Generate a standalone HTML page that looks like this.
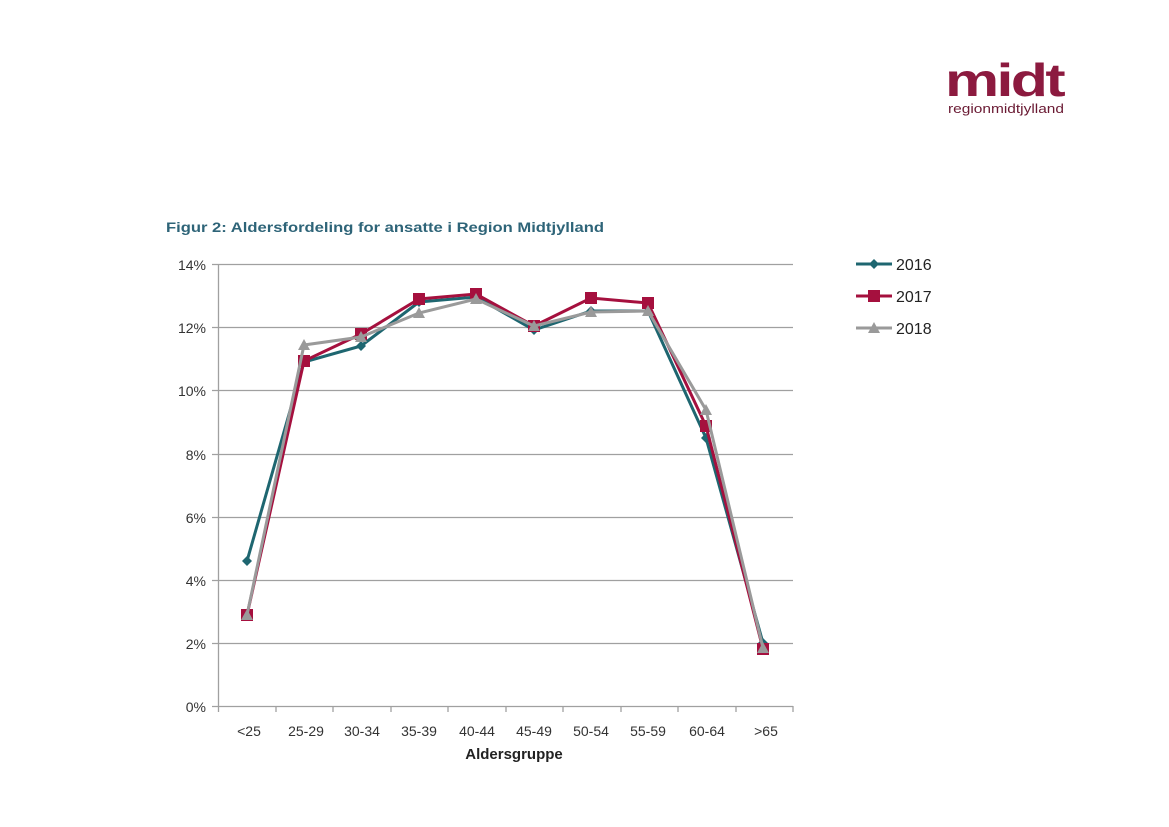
<!DOCTYPE html>
<html><head><meta charset="utf-8"><style>
html,body{margin:0;padding:0;background:#fff;}
body{width:1169px;height:827px;overflow:hidden;}
svg{display:block;font-family:"Liberation Sans","DejaVu Sans",sans-serif;}
</style></head><body>
<svg width="1169" height="827" viewBox="0 0 1169 827">
<text x="945" y="96" font-size="46" font-weight="bold" fill="#8c1a3f" letter-spacing="-2" textLength="118" lengthAdjust="spacingAndGlyphs">midt</text>
<text x="948" y="113" font-size="13" fill="#6a1a33" textLength="116" lengthAdjust="spacingAndGlyphs">regionmidtjylland</text>
<text x="166" y="232" font-size="13.5" font-weight="bold" fill="#2e6478" textLength="438" lengthAdjust="spacingAndGlyphs">Figur 2: Aldersfordeling for ansatte i Region Midtjylland</text>
<g stroke="#a0a0a0" stroke-width="1.3">
<line x1="212" y1="264.5" x2="793" y2="264.5"/>
<line x1="212" y1="327.5" x2="793" y2="327.5"/>
<line x1="212" y1="390.5" x2="793" y2="390.5"/>
<line x1="212" y1="454.5" x2="793" y2="454.5"/>
<line x1="212" y1="517.5" x2="793" y2="517.5"/>
<line x1="212" y1="580.5" x2="793" y2="580.5"/>
<line x1="212" y1="643.5" x2="793" y2="643.5"/>
<line x1="212" y1="706.5" x2="793" y2="706.5"/>
<line x1="218.5" y1="264" x2="218.5" y2="712"/>
<line x1="276" y1="706" x2="276" y2="712"/><line x1="333" y1="706" x2="333" y2="712"/><line x1="391" y1="706" x2="391" y2="712"/><line x1="448" y1="706" x2="448" y2="712"/><line x1="506" y1="706" x2="506" y2="712"/><line x1="563" y1="706" x2="563" y2="712"/><line x1="621" y1="706" x2="621" y2="712"/><line x1="678" y1="706" x2="678" y2="712"/><line x1="736" y1="706" x2="736" y2="712"/><line x1="793" y1="706" x2="793" y2="712"/>
</g>
<g font-size="14" fill="#333" text-anchor="end">
<text x="206" y="270">14%</text><text x="206" y="333">12%</text><text x="206" y="396">10%</text><text x="206" y="460">8%</text><text x="206" y="523">6%</text><text x="206" y="586">4%</text><text x="206" y="649">2%</text><text x="206" y="712">0%</text>
</g>
<g font-size="14" fill="#333" text-anchor="middle">
<text x="249" y="736">&lt;25</text><text x="306" y="736">25-29</text><text x="362" y="736">30-34</text><text x="419" y="736">35-39</text><text x="477" y="736">40-44</text><text x="534" y="736">45-49</text><text x="591" y="736">50-54</text><text x="648" y="736">55-59</text><text x="707" y="736">60-64</text><text x="766" y="736">&gt;65</text>
</g>
<text x="514" y="759" font-size="15" font-weight="bold" fill="#222" text-anchor="middle">Aldersgruppe</text>
<polyline fill="none" stroke="#1e6670" stroke-width="3" points="247,561 304,362 361,346 419,302 476,297 534,330 591,311 648,311 706,438 763,643"/>
<g fill="#1e6670"><path d="M247,556l5,5-5,5-5-5z"/><path d="M304,357l5,5-5,5-5-5z"/><path d="M361,341l5,5-5,5-5-5z"/><path d="M419,297l5,5-5,5-5-5z"/><path d="M476,292l5,5-5,5-5-5z"/><path d="M534,325l5,5-5,5-5-5z"/><path d="M591,306l5,5-5,5-5-5z"/><path d="M648,306l5,5-5,5-5-5z"/><path d="M706,433l5,5-5,5-5-5z"/><path d="M763,638l5,5-5,5-5-5z"/></g>
<polyline fill="none" stroke="#a5103e" stroke-width="3" points="247,615 304,361 361,334 419,299 476,294 534,326 591,298 648,303 706,426 763,649"/>
<g fill="#a5103e"><rect x="241" y="609" width="12" height="12"/><rect x="298" y="355" width="12" height="12"/><rect x="355" y="328" width="12" height="12"/><rect x="413" y="293" width="12" height="12"/><rect x="470" y="288" width="12" height="12"/><rect x="528" y="320" width="12" height="12"/><rect x="585" y="292" width="12" height="12"/><rect x="642" y="297" width="12" height="12"/><rect x="700" y="420" width="12" height="12"/><rect x="757" y="643" width="12" height="12"/></g>
<polyline fill="none" stroke="#9a9a9a" stroke-width="3" points="247,615 304,345 361,337 419,313 476,299 534,326 591,312 648,311 706,410 763,648"/>
<g fill="#9a9a9a"><path d="M247,609l6,11h-12z"/><path d="M304,339l6,11h-12z"/><path d="M361,331l6,11h-12z"/><path d="M419,307l6,11h-12z"/><path d="M476,293l6,11h-12z"/><path d="M534,320l6,11h-12z"/><path d="M591,306l6,11h-12z"/><path d="M648,305l6,11h-12z"/><path d="M706,404l6,11h-12z"/><path d="M763,642l6,11h-12z"/></g>
<line x1="856" y1="264" x2="892" y2="264" stroke="#1e6670" stroke-width="3"/><path d="M874,259l5,5-5,5-5-5z" fill="#1e6670"/>
<text x="896" y="270" font-size="16" fill="#222">2016</text>
<line x1="856" y1="296" x2="892" y2="296" stroke="#a5103e" stroke-width="3"/><rect x="868" y="290" width="12" height="12" fill="#a5103e"/>
<text x="896" y="302" font-size="16" fill="#222">2017</text>
<line x1="856" y1="328" x2="892" y2="328" stroke="#9a9a9a" stroke-width="3"/><path d="M874,322l6,11h-12z" fill="#9a9a9a"/>
<text x="896" y="334" font-size="16" fill="#222">2018</text>
</svg>
</body></html>
